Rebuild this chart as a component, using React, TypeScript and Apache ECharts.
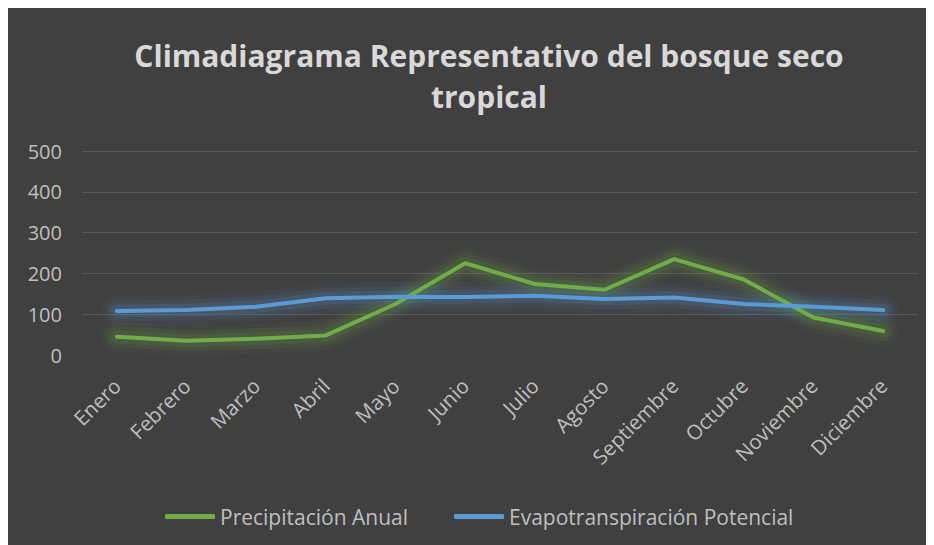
import React, { useEffect, useRef } from "react";
import * as echarts from "echarts";

const titleText = "Climadiagrama Representativo del bosque seco\ntropical";
const months = ["Enero", "Febrero", "Marzo", "Abril", "Mayo", "Junio", "Julio", "Agosto", "Septiembre", "Octubre", "Noviembre", "Diciembre"];
const precipitacion = [45, 35, 40, 48, 125, 225, 174, 160, 235, 185, 92, 59];
const evapotranspiracion = [108, 110, 118, 139, 143, 142, 145, 137, 141, 125, 118, 110];
const seriesNames = ["Precipitación Anual", "Evapotranspiración Potencial"];
const yTicks = { min: 0, max: 500, interval: 100 };

const FONT = "'Open Sans', 'Noto Sans', sans-serif";
const GREEN = "#70AD47";
const BLUE = "#5B9BD5";

function glowSeries(data: number[], rgb: string) {
  const layers = [
    { w: 30, a: 0.06 },
    { w: 21, a: 0.09 },
    { w: 13, a: 0.13 },
  ];
  return layers.map((l) => ({
    type: "line",
    data,
    showSymbol: false,
    symbol: "none",
    silent: true,
    z: 1,
    lineStyle: { width: l.w, color: `rgba(${rgb},${l.a})`, cap: "round", join: "round" },
  }));
}

export default function App() {
  const ref = useRef<HTMLDivElement>(null);
  useEffect(() => {
    if (!ref.current) return;
    const chart = echarts.init(ref.current, undefined, { renderer: "svg" });
    chart.setOption({
      animation: false,
      backgroundColor: "#404040",
      title: {
        text: titleText,
        left: 476,
        top: 22,
        textAlign: "center",
        textStyle: {
          color: "#d9d9d9",
          fontFamily: FONT,
          fontWeight: "bold",
          fontSize: 30,
          lineHeight: 41,
        },
      },
      legend: {
        orient: "horizontal",
        top: 493,
        left: 152,
        icon: "roundRect",
        itemWidth: 50,
        itemHeight: 5,
        itemGap: 46,
        textStyle: { color: "#bfbfbf", fontFamily: FONT, fontSize: 21 },
        data: seriesNames,
      },
      grid: { left: 74, right: 16, top: 143, bottom: 190, containLabel: false },
      xAxis: {
        type: "category",
        data: months,
        boundaryGap: true,
        axisLine: { show: false },
        axisTick: { show: false },
        axisLabel: {
          rotate: 45,
          interval: 0,
          margin: 27,
          color: "#bfbfbf",
          fontFamily: FONT,
          fontSize: 20.5,
        },
      },
      yAxis: {
        type: "value",
        min: yTicks.min,
        max: yTicks.max,
        interval: yTicks.interval,
        axisLine: { show: false },
        axisTick: { show: false },
        axisLabel: { color: "#bfbfbf", fontFamily: FONT, fontSize: 20, margin: 20 },
        splitLine: {
          lineStyle: {
            color: ["rgba(0,0,0,0)", "#595959", "#595959", "#595959", "#595959", "#595959"],
            width: 1,
          },
        },
      },
      series: [
        ...glowSeries(precipitacion, "112,173,71"),
        ...glowSeries(evapotranspiracion, "91,155,213"),
        {
          name: seriesNames[0],
          type: "line",
          data: precipitacion,
          showSymbol: false,
          symbol: "none",
          color: GREEN,
          z: 3,
          lineStyle: { width: 4, color: GREEN, cap: "round", join: "round" },
        },
        {
          name: seriesNames[1],
          type: "line",
          data: evapotranspiracion,
          showSymbol: false,
          symbol: "none",
          color: BLUE,
          z: 3,
          lineStyle: { width: 4, color: BLUE, cap: "round", join: "round" },
        },
      ],
    });
    return () => chart.dispose();
  }, []);
  return <div ref={ref} style={{ width: 926, height: 537 }} />;
}
